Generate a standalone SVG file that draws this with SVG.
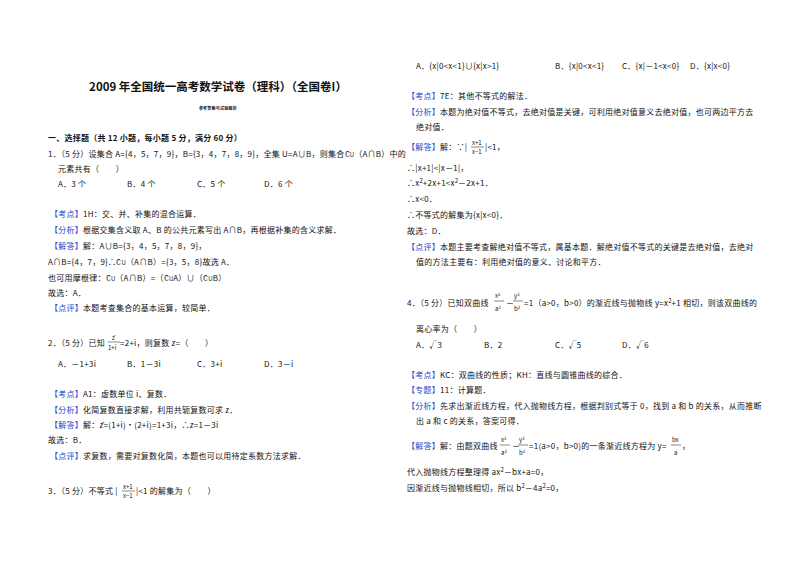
<svg xmlns="http://www.w3.org/2000/svg" width="800" height="565" viewBox="0 0 800 565">
<style>
text{font-family:"Noto Sans CJK SC","Liberation Sans",sans-serif;font-size:8px;fill:#111;letter-spacing:0.25px}
.b{fill:#2a45c8}
.t{font-size:11.5px;font-weight:bold;letter-spacing:0}
.h{font-weight:bold}
.s{font-size:6px;letter-spacing:0}
line{stroke:#111;stroke-width:0.5}
</style>
<rect width="800" height="565" fill="#fff"/>
<text class="t" x="218" y="91" text-anchor="middle">2009 年全国统一高考数学试卷（理科）（全国卷I）</text>
<text x="218" y="110" text-anchor="middle" style="font-size:4px;font-weight:bold">参考答案与试题解析</text>
<text class="h" x="48" y="141">一、选择题（共 12 小题，每小题 5 分，满分 60 分）</text>
<text x="48" y="157">1．（5 分）设集合 A={4，5，7，9}，B={3，4，7，8，9}，全集 U=A∪B，则集合∁<tspan class="s">U</tspan>（A∩B）中的</text>
<text x="58" y="172">元素共有（　　）</text>
<text x="58" y="187">A．3 个</text><text x="127" y="187">B．4 个</text><text x="197" y="187">C．5 个</text><text x="264" y="187">D．6 个</text>
<text x="50" y="217"><tspan class="b">【考点】</tspan>1H：交、并、补集的混合运算．</text>
<text x="50" y="233"><tspan class="b">【分析】</tspan>根据交集含义取 A、B 的公共元素写出 A∩B，再根据补集的含义求解．</text>
<text x="50" y="249"><tspan class="b">【解答】</tspan>解：A∪B={3，4，5，7，8，9}，</text>
<text x="48" y="265">A∩B={4，7，9}∴∁<tspan class="s">U</tspan>（A∩B）={3，5，8}故选 A．</text>
<text x="48" y="281">也可用摩根律：∁<tspan class="s">U</tspan>（A∩B）=（∁<tspan class="s">U</tspan>A）∪（∁<tspan class="s">U</tspan>B）</text>
<text x="48" y="296">故选：A．</text>
<text x="50" y="311"><tspan class="b">【点评】</tspan>本题考查集合的基本运算，较简单．</text>
<text x="48" y="346">2．（5 分）已知</text>
<text x="112" y="340" class="s">z̄</text><line x1="108" y1="342" x2="120" y2="342"/><text x="108" y="350" class="s">1+i</text>
<text x="120" y="346">=2+i，则复数 z=（　　）</text>
<text x="58" y="367">A．－1+3i</text><text x="127" y="367">B．1－3i</text><text x="197" y="367">C．3+i</text><text x="264" y="367">D．3－i</text>
<text x="50" y="397"><tspan class="b">【考点】</tspan>A1：虚数单位 i、复数．</text>
<text x="50" y="413"><tspan class="b">【分析】</tspan>化简复数直接求解，利用共轭复数可求 z．</text>
<text x="50" y="428"><tspan class="b">【解答】</tspan>解：z̄=(1+i)•(2+i)=1+3i，∴z=1－3i</text>
<text x="48" y="443">故选：B．</text>
<text x="50" y="459"><tspan class="b">【点评】</tspan>求复数，需要对复数化简，本题也可以用待定系数方法求解．</text>
<text x="48" y="494">3．（5 分）不等式 |</text>
<text x="123" y="489" class="s">x+1</text><line x1="122" y1="491" x2="135" y2="491"/><text x="123" y="498" class="s">x−1</text>
<text x="136" y="494">|&lt;1 的解集为（　　）</text>
<text x="416" y="69">A．{x|0&lt;x&lt;1}∪{x|x&gt;1}</text><text x="555" y="69">B．{x|0&lt;x&lt;1}</text><text x="622" y="69">C．{x|－1&lt;x&lt;0}</text><text x="690" y="69">D．{x|x&lt;0}</text>
<text x="407" y="99"><tspan class="b">【考点】</tspan>7E：其他不等式的解法．</text>
<text x="407" y="115"><tspan class="b">【分析】</tspan>本题为绝对值不等式，去绝对值是关键，可利用绝对值意义去绝对值，也可两边平方去</text>
<text x="416" y="130">绝对值．</text>
<text x="407" y="150"><tspan class="b">【解答】</tspan>解：∵|</text>
<text x="472" y="145" class="s">x+1</text><line x1="471" y1="147" x2="484" y2="147"/><text x="472" y="154" class="s">x−1</text>
<text x="485" y="150">|&lt;1，</text>
<text x="407" y="171">∴|x+1|&lt;|x－1|，</text>
<text x="407" y="186">∴x<tspan class="s" dy="-3">2</tspan><tspan dy="3">+2x+1&lt;x</tspan><tspan class="s" dy="-3">2</tspan><tspan dy="3">－2x+1．</tspan></text>
<text x="407" y="202">∴x&lt;0．</text>
<text x="407" y="218">∴不等式的解集为{x|x&lt;0}．</text>
<text x="407" y="234">故选：D．</text>
<text x="407" y="250"><tspan class="b">【点评】</tspan>本题主要考查解绝对值不等式，属基本题．解绝对值不等式的关键是去绝对值，去绝对</text>
<text x="416" y="265">值的方法主要有：利用绝对值的意义、讨论和平方．</text>
<text x="407" y="306">4．（5 分）已知双曲线</text>
<text x="495" y="298" class="s">x²</text><line x1="494" y1="301" x2="504" y2="301"/><text x="495" y="311" class="s">a²</text>
<text x="506" y="306">－</text>
<text x="514" y="298" class="s">y²</text><line x1="513" y1="301" x2="523" y2="301"/><text x="514" y="311" class="s">b²</text>
<text x="524" y="306">=1（a&gt;0，b&gt;0）的渐近线与抛物线 y=x<tspan class="s" dy="-3">2</tspan><tspan dy="3">+1 相切，则该双曲线的</tspan></text>
<text x="416" y="332">离心率为（　　）</text>
<text x="416" y="348">A．√3</text><text x="484" y="348">B．2</text><text x="555" y="348">C．√5</text><text x="622" y="348">D．√6</text>
<text x="407" y="378"><tspan class="b">【考点】</tspan>KC：双曲线的性质；KH：直线与圆锥曲线的综合．</text>
<text x="407" y="393"><tspan class="b">【专题】</tspan>11：计算题．</text>
<text x="407" y="409"><tspan class="b">【分析】</tspan>先求出渐近线方程，代入抛物线方程，根据判别式等于 0，找到 a 和 b 的关系，从而推断</text>
<text x="416" y="424">出 a 和 c 的关系，答案可得．</text>
<text x="407" y="449"><tspan class="b">【解答】</tspan>解：由题双曲线</text>
<text x="501" y="442" class="s">x²</text><line x1="500" y1="445" x2="510" y2="445"/><text x="501" y="455" class="s">a²</text>
<text x="512" y="449">－</text>
<text x="519" y="442" class="s">y²</text><line x1="518" y1="445" x2="528" y2="445"/><text x="519" y="455" class="s">b²</text>
<text x="529" y="449">=1(a&gt;0，b&gt;0)的一条渐近线方程为 y=</text>
<text x="672" y="442" class="s">bx</text><line x1="671" y1="445" x2="681" y2="445"/><text x="674" y="455" class="s">a</text>
<text x="682" y="449">，</text>
<text x="407" y="475">代入抛物线方程整理得 ax<tspan class="s" dy="-3">2</tspan><tspan dy="3">－bx+a=0，</tspan></text>
<text x="407" y="491">因渐近线与抛物线相切，所以 b<tspan class="s" dy="-3">2</tspan><tspan dy="3">－4a</tspan><tspan class="s" dy="-3">2</tspan><tspan dy="3">=0，</tspan></text>
</svg>
